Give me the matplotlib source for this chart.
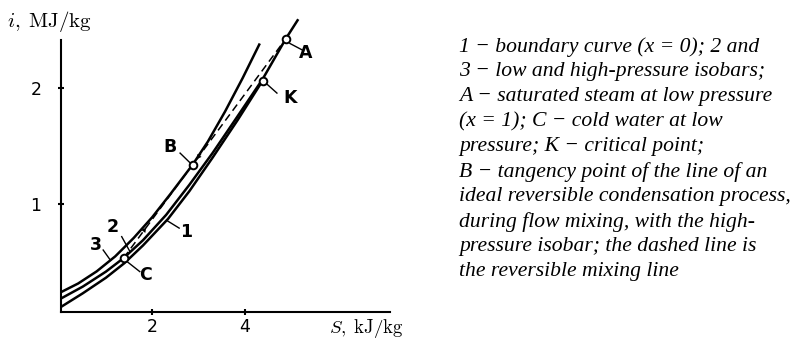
import numpy as np
import matplotlib.pyplot as plt

plt.rcParams['mathtext.fontset'] = 'cm'

# ---------------------------------------------------------------------------
# Curve data: entropy S (kJ/kg) and enthalpy i (MJ/kg)
# ---------------------------------------------------------------------------
# 1 - boundary curve (x = 0), ends at the critical point K
s_boundary = [0.03, 0.5, 1.0, 1.4, 1.8, 2.34, 2.8, 3.3, 3.84, 4.38]
i_boundary = [0.107, 0.225, 0.36, 0.487, 0.64, 0.87, 1.11, 1.40, 1.725, 2.067]

# 2 - low-pressure isobar
s_low = [0.03, 0.5, 1.0, 1.38, 1.8, 2.3, 2.8, 3.3, 3.8, 4.38, 4.88, 5.15]
i_low = [0.18, 0.283, 0.413, 0.53, 0.685, 0.905, 1.165, 1.44, 1.735, 2.08, 2.43, 2.60]

# 3 - high-pressure isobar
s_high = [0.03, 0.4, 0.8, 1.2, 1.6, 2.0, 2.4, 2.87, 3.2, 3.57, 3.95, 4.32]
i_high = [0.235, 0.31, 0.415, 0.545, 0.705, 0.885, 1.09, 1.339, 1.54, 1.80, 2.09, 2.39]

# state points
points = {'A': (4.88, 2.43), 'K': (4.38, 2.067), 'B': (2.87, 1.339), 'C': (1.38, 0.53)}

# point / curve labels: name -> (text position, leader start, leader end)
labels = {
    'A': ((5.32, 2.31), (4.97, 2.39), (5.23, 2.335)),
    'K': ((4.97, 1.92), (4.44, 2.05), (4.69, 1.96)),
    'B': ((2.38, 1.497), (2.60, 1.44), (2.83, 1.35)),
    'C': ((1.85, 0.384), (1.43, 0.508), (1.73, 0.413)),
    '1': ((2.73, 0.76), (2.31, 0.857), (2.58, 0.79)),
    '2': ((1.15, 0.803), (1.34, 0.716), (1.52, 0.585)),
    '3': ((0.79, 0.644), (0.94, 0.60), (1.10, 0.51)),
}

caption = [
    '1 − boundary curve (x = 0); 2 and',
    '3 − low and high-pressure isobars;',
    'A − saturated steam at low pressure',
    '(x = 1); C − cold water at low',
    'pressure; K − critical point;',
    'B − tangency point of the line of an',
    'ideal reversible condensation process,',
    'during flow mixing, with the high-',
    'pressure isobar; the dashed line is',
    'the reversible mixing line',
]

W, H = 796, 339
fig = plt.figure(figsize=(W / 100, H / 100), dpi=100)
ax = fig.add_axes([61 / W, 27 / H, 329 / W, 272 / H])
ax.set_xlim(0.03, 7.13)
ax.set_ylim(0.063, 2.42)

for s, i in [(s_boundary, i_boundary), (s_low, i_low), (s_high, i_high)]:
    ax.plot(s, i, color='black', lw=1.8, clip_on=False, solid_capstyle='butt')

# reversible mixing line C -> A
c_s, c_i = points['C']
a_s, a_i = points['A']
ax.plot([c_s, a_s], [c_i, a_i], color='black', lw=1.1, dashes=(5, 3), clip_on=False)

# direction arrows along the mixing line, both heading towards B
def on_line(t):
    return (c_s + t * (a_s - c_s), c_i + t * (a_i - c_i))

for head, tail in [(0.14, 0.09), (0.45, 0.50)]:
    ax.annotate('', xy=on_line(head), xytext=on_line(tail),
                arrowprops=dict(arrowstyle='-|>', color='black', lw=0,
                                mutation_scale=9, shrinkA=0, shrinkB=0))

for name, (s, i) in points.items():
    ax.plot(s, i, 'o', ms=5.5, mfc='white', mec='black', mew=1.4, zorder=5, clip_on=False)

for name, (txt, p0, p1) in labels.items():
    ax.plot([p0[0], p1[0]], [p0[1], p1[1]], color='black', lw=1.0, clip_on=False)
    ax.text(txt[0], txt[1], name, ha='center', va='center', fontsize=12.5,
            fontweight='bold', family='DejaVu Sans')

for side in ['top', 'right']:
    ax.spines[side].set_visible(False)
for side in ['left', 'bottom']:
    ax.spines[side].set_linewidth(1.5)

ax.set_xticks([2, 4])
ax.set_yticks([1, 2])
ax.tick_params(direction='inout', length=4, width=1.5, labelsize=12.5)
ax.tick_params(axis='y', pad=12)
ax.tick_params(axis='x', pad=2)

fig.text(7 / W, 1 - 21 / H, r'$i,\;\mathrm{MJ/kg}$', fontsize=15, va='center', ha='left')
fig.text(329 / W, 1 - 328 / H, r'$S,\;\mathrm{kJ/kg}$', fontsize=13.5, va='center', ha='left')

for k, line in enumerate(caption):
    y = 46.7 + 25.0 * k
    fig.text(459 / W, 1 - y / H, line, fontsize=15.6, style='italic',
             family='Liberation Serif', va='center', ha='left')

fig.savefig('out.png', dpi=100)
